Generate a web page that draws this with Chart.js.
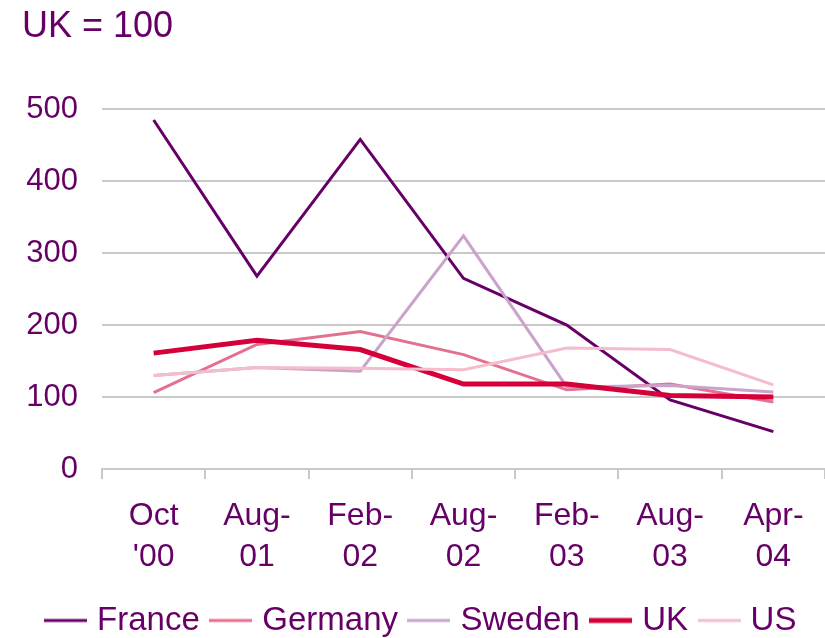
<!DOCTYPE html>
<html>
<head>
<meta charset="utf-8">
<script src="https://cdn.jsdelivr.net/npm/chart.js@4"></script>
<style>
  html, body { margin: 0; padding: 0; background: #fff; }
  #wrap { width: 825px; height: 638px; }
</style>
</head>
<body>
<div id="wrap"><canvas id="myChart" width="825" height="638"></canvas></div>
<script>
// data (UK = 100)
var categories = [["Oct", "'00"], ["Aug-", "01"], ["Feb-", "02"], ["Aug-", "02"], ["Feb-", "03"], ["Aug-", "03"], ["Apr-", "04"]];
var france  = [485, 268, 458, 265, 200, 96, 52];
var germany = [106, 173, 191, 159, 110, 118, 93];
var sweden  = [130, 141, 136, 324, 114, 116, 107];
var uk      = [161, 179, 166, 118, 118, 102, 100];
var us      = [130, 141, 140, 138, 168, 166, 117];
var yTicks  = [0, 100, 200, 300, 400, 500];

var purple = '#660066';
var fontFam = 'Arial, "Liberation Sans", sans-serif';

// little line sample used as the legend marker
function legendLine(color, width) {
    var c = document.createElement('canvas');
    c.width = 43;
    c.height = 8;
    var g = c.getContext('2d');
    g.fillStyle = color;
    g.fillRect(0, 4 - width / 2, 43, width);
    return c;
}

function series(label, data, color, width, order) {
    return {
        label: label,
        data: data,
        borderColor: color,
        backgroundColor: color,
        borderWidth: width,
        pointRadius: 0,
        pointStyle: legendLine(color, width),
        tension: 0,
        order: order
    };
}

var ctx = document.getElementById('myChart').getContext('2d');
var chart = new Chart(ctx, {
    type: 'line',
    data: {
        labels: categories,
        datasets: [
            series('France', france, '#660066', 3, 5),
            series('Germany', germany, '#e3708f', 3, 4),
            series('Sweden', sweden, '#c9a3cc', 3, 3),
            series('UK', uk, '#d5003a', 5, 2),
            series('US', us, '#f4bdcb', 3, 1)
        ]
    },
    options: {
        responsive: false,
        animation: false,
        layout: { padding: { left: 22, right: 0, top: 0, bottom: -9 } },
        plugins: {
            title: {
                display: true,
                text: 'UK = 100',
                align: 'start',
                color: purple,
                font: { family: fontFam, size: 36, weight: 'normal', lineHeight: 1.2 },
                padding: { top: 5, bottom: 61 }
            },
            legend: {
                position: 'bottom',
                labels: {
                    usePointStyle: true,
                    pointStyleWidth: 30,
                    color: purple,
                    padding: 16,
                    font: { family: fontFam, size: 33 },
                    sort: function (a, b) { return a.datasetIndex - b.datasetIndex; }
                }
            },
            tooltip: { enabled: false }
        },
        scales: {
            x: {
                offset: true,
                grid: { display: true, drawOnChartArea: false, drawTicks: true, tickLength: 10, offset: true, color: '#c8c8c8', lineWidth: 2 },
                border: { display: true, color: '#c8c8c8', width: 2 },
                ticks: {
                    color: purple,
                    padding: 17,
                    maxRotation: 0,
                    font: { family: fontFam, size: 32, lineHeight: 1.28 }
                },
                afterFit: function (scale) { scale.height = 119; }
            },
            y: {
                min: 0,
                max: 500,
                afterBuildTicks: function (scale) {
                    scale.ticks = yTicks.map(function (v) { return { value: v }; });
                },
                grid: { color: '#c8c8c8', lineWidth: 2, drawTicks: false },
                border: { display: false },
                ticks: {
                    color: purple,
                    padding: 24,
                    font: { family: fontFam, size: 31 }
                },
                afterFit: function (scale) { scale.width = 80; }
            }
        }
    }
});
</script>
</body>
</html>
